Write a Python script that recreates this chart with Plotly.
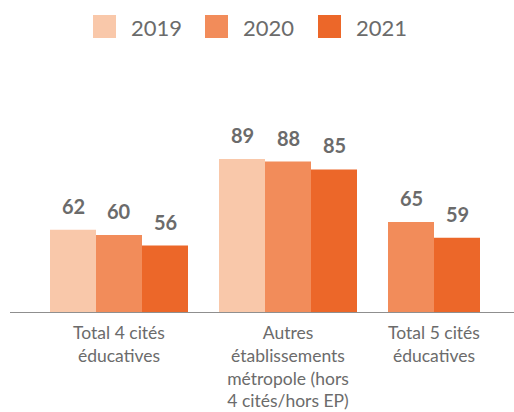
import plotly.graph_objects as go

# --- data -------------------------------------------------------------
categories = [
    "Total 4 cités<br>éducatives",
    "Autres<br>établissements<br>métropole (hors<br>4 cités/hors EP)",
    "Total 5 cités<br>éducatives",
]
series_names = ["2019", "2020", "2021"]
values_2019 = [62, 89, None]
values_2020 = [60, 88, 65]
values_2021 = [56, 85, 59]
series_values = [values_2019, values_2020, values_2021]

# --- styling / layout -------------------------------------------------
colors = ["#F9C8AA", "#F28C5A", "#EC6729"]
text_color = "#6b6b6b"
font_family = "Lato, 'Open Sans', sans-serif"

W, H = 514, 412
margin = dict(l=10, r=0, t=62, b=100)
plot_w = W - margin["l"] - margin["r"]
plot_h = H - margin["t"] - margin["b"]

# x axis is laid out in pixel-like units; groups are centred on these positions
x_min, x_max = 10, 514
group_centers = [119, 288, 434]
bar_w = 46
y_min, y_max = 30.7, 30.7 + plot_h / 2.625


def paper_y(py):
    """page pixel row -> paper y"""
    return (H - margin["b"] - py) / plot_h


fig = go.Figure()
annotations = []

# each group is centred on its position using only the bars it actually has
offsets = [[0] * len(categories) for _ in series_names]
for g in range(len(categories)):
    present = [s for s in range(len(series_names)) if series_values[s][g] is not None]
    n = len(present)
    for k, s in enumerate(present):
        offsets[s][g] = (k - n / 2) * bar_w

for s, name in enumerate(series_names):
    fig.add_trace(go.Bar(
        name=name,
        x=group_centers,
        y=series_values[s],
        offset=offsets[s],
        width=bar_w,
        marker=dict(color=colors[s], line=dict(width=0)),
        showlegend=False,
        hoverinfo="skip",
    ))
    for g, v in enumerate(series_values[s]):
        if v is None:
            continue
        annotations.append(dict(
            x=group_centers[g] + offsets[s][g] + bar_w / 2, y=v,
            xref="x", yref="y", text=f"<b>{v}</b>", showarrow=False,
            xanchor="center", yanchor="bottom", yshift=10,
            font=dict(family=font_family, size=20, color=text_color),
        ))

# legend drawn as squares + labels above the plot
shapes = []
legend_sq_x = [93, 205, 318]
sq = 23
for s, name in enumerate(series_names):
    x0 = legend_sq_x[s]
    shapes.append(dict(
        type="rect", xref="x", yref="paper",
        x0=x0, x1=x0 + sq, y0=paper_y(38), y1=paper_y(15),
        fillcolor=colors[s], line=dict(width=0),
    ))
    annotations.append(dict(
        x=x0 + sq + 13, y=paper_y(27), xref="x", yref="paper",
        text=name, showarrow=False, xanchor="left", yanchor="middle",
        font=dict(family=font_family, size=22, color=text_color),
    ))

fig.update_layout(
    width=W, height=H, margin=margin,
    paper_bgcolor="white", plot_bgcolor="white",
    barmode="overlay",
    showlegend=False,
    shapes=shapes,
    annotations=annotations,
    xaxis=dict(
        range=[x_min, x_max], tickmode="array",
        tickvals=group_centers, ticktext=categories,
        showgrid=False, zeroline=False, ticks="",
        ticklabelstandoff=5, automargin=False,
        showline=True, linecolor="#8f8f8f", linewidth=1.3,
        tickfont=dict(family=font_family, size=17.5, color=text_color),
        fixedrange=True,
    ),
    yaxis=dict(
        range=[y_min, y_max], visible=False, showgrid=False, zeroline=False,
        fixedrange=True, automargin=False,
    ),
    font=dict(family=font_family, color=text_color),
)

fig.write_html("out.html", config={"displayModeBar": False})
